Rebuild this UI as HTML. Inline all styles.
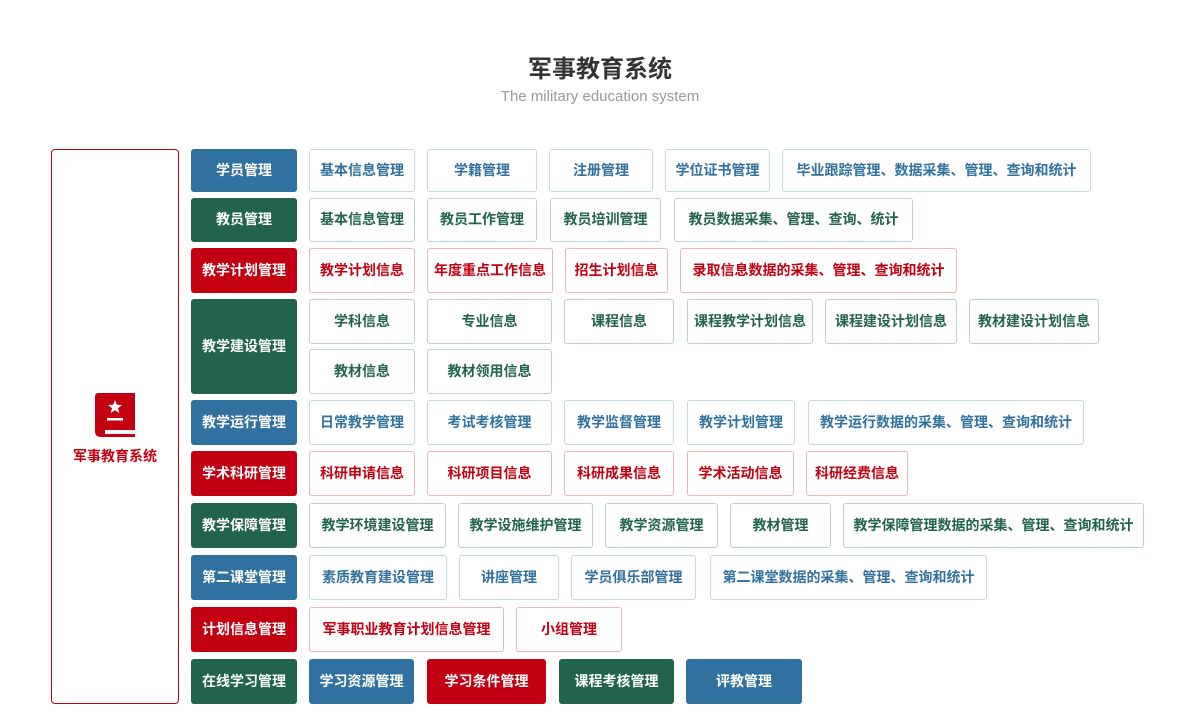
<!DOCTYPE html>
<html><head><meta charset="utf-8"><style>
body{margin:0;width:1200px;height:727px;background:#fff;position:relative;overflow:hidden;font-family:"Liberation Sans","Noto Sans CJK SC",sans-serif}
.t{position:absolute;left:0;width:1200px;text-align:center}
.b{position:absolute;box-sizing:border-box;border-radius:3px;display:flex;align-items:center;justify-content:center;font-size:14px;font-weight:bold;white-space:nowrap;padding-bottom:2px}
.fb{background:#31719f;color:#fff}.fg{background:#22634d;color:#fff}.fr{background:#c30012;color:#fff}
.ob{border:1px solid #c5d8e5;color:#31719f}.og{border:1px solid #bcd1ca;color:#22634d}.or{border:1px solid #efb3b8;color:#c30012}
</style></head><body>
<div class="t" style="top:49px;font-size:24px;font-weight:bold;color:#333">军事教育系统</div>
<div class="t" style="top:88px;font-size:15px;color:#999">The military education system</div>
<div style="position:absolute;left:51px;top:149px;width:128px;height:555px;box-sizing:border-box;border:1px solid #c30012;border-radius:4px"></div>
<svg style="position:absolute;left:95px;top:393px" width="40" height="45" viewBox="0 0 40 45">
<path d="M3 0H40V37H10V41H40V44H6Q0 44 0 38V4Q0 0 3 0Z" fill="#c30012"/>
<polygon points="20,7 21.9,11.8 27,12 23,15.2 24.3,20 20,17.3 15.7,20 17,15.2 13,12 18.1,11.8" fill="#fff"/>
<rect x="12" y="25" width="16" height="2.5" fill="#fff"/>
</svg>
<div style="position:absolute;left:51px;width:128px;top:446px;text-align:center;font-size:14px;font-weight:bold;color:#c30012">军事教育系统</div>

<div class="b fb" style="left:191px;top:149px;width:106px;height:43px">学员管理</div>
<div class="b ob" style="left:309px;top:149px;width:106px;height:43px">基本信息管理</div>
<div class="b ob" style="left:427px;top:149px;width:110px;height:43px">学籍管理</div>
<div class="b ob" style="left:549px;top:149px;width:104px;height:43px">注册管理</div>
<div class="b ob" style="left:665px;top:149px;width:105px;height:43px">学位证书管理</div>
<div class="b ob" style="left:782px;top:149px;width:309px;height:43px">毕业跟踪管理、数据采集、管理、查询和统计</div>

<div class="b fg" style="left:191px;top:198px;width:106px;height:44px">教员管理</div>
<div class="b og" style="left:309px;top:198px;width:106px;height:44px">基本信息管理</div>
<div class="b og" style="left:427px;top:198px;width:110px;height:44px">教员工作管理</div>
<div class="b og" style="left:550px;top:198px;width:111px;height:44px">教员培训管理</div>
<div class="b og" style="left:674px;top:198px;width:239px;height:44px">教员数据采集、管理、查询、统计</div>

<div class="b fr" style="left:191px;top:248px;width:106px;height:45px">教学计划管理</div>
<div class="b or" style="left:309px;top:248px;width:106px;height:45px">教学计划信息</div>
<div class="b or" style="left:427px;top:248px;width:126px;height:45px">年度重点工作信息</div>
<div class="b or" style="left:565px;top:248px;width:103px;height:45px">招生计划信息</div>
<div class="b or" style="left:680px;top:248px;width:277px;height:45px">录取信息数据的采集、管理、查询和统计</div>

<div class="b fg" style="left:191px;top:299px;width:106px;height:95px">教学建设管理</div>
<div class="b og" style="left:309px;top:299px;width:106px;height:45px">学科信息</div>
<div class="b og" style="left:427px;top:299px;width:125px;height:45px">专业信息</div>
<div class="b og" style="left:564px;top:299px;width:110px;height:45px">课程信息</div>
<div class="b og" style="left:687px;top:299px;width:126px;height:45px">课程教学计划信息</div>
<div class="b og" style="left:825px;top:299px;width:132px;height:45px">课程建设计划信息</div>
<div class="b og" style="left:969px;top:299px;width:130px;height:45px">教材建设计划信息</div>
<div class="b og" style="left:309px;top:349px;width:106px;height:45px">教材信息</div>
<div class="b og" style="left:427px;top:349px;width:125px;height:45px">教材领用信息</div>

<div class="b fb" style="left:191px;top:400px;width:106px;height:45px">教学运行管理</div>
<div class="b ob" style="left:309px;top:400px;width:106px;height:45px">日常教学管理</div>
<div class="b ob" style="left:427px;top:400px;width:125px;height:45px">考试考核管理</div>
<div class="b ob" style="left:564px;top:400px;width:110px;height:45px">教学监督管理</div>
<div class="b ob" style="left:687px;top:400px;width:108px;height:45px">教学计划管理</div>
<div class="b ob" style="left:808px;top:400px;width:276px;height:45px">教学运行数据的采集、管理、查询和统计</div>

<div class="b fr" style="left:191px;top:451px;width:106px;height:45px">学术科研管理</div>
<div class="b or" style="left:309px;top:451px;width:106px;height:45px">科研申请信息</div>
<div class="b or" style="left:427px;top:451px;width:125px;height:45px">科研项目信息</div>
<div class="b or" style="left:564px;top:451px;width:110px;height:45px">科研成果信息</div>
<div class="b or" style="left:687px;top:451px;width:107px;height:45px">学术活动信息</div>
<div class="b or" style="left:806px;top:451px;width:102px;height:45px">科研经费信息</div>

<div class="b fg" style="left:191px;top:503px;width:106px;height:45px">教学保障管理</div>
<div class="b og" style="left:309px;top:503px;width:137px;height:45px">教学环境建设管理</div>
<div class="b og" style="left:458px;top:503px;width:135px;height:45px">教学设施维护管理</div>
<div class="b og" style="left:605px;top:503px;width:113px;height:45px">教学资源管理</div>
<div class="b og" style="left:730px;top:503px;width:101px;height:45px">教材管理</div>
<div class="b og" style="left:843px;top:503px;width:301px;height:45px">教学保障管理数据的采集、管理、查询和统计</div>

<div class="b fb" style="left:191px;top:555px;width:106px;height:45px">第二课堂管理</div>
<div class="b ob" style="left:309px;top:555px;width:138px;height:45px">素质教育建设管理</div>
<div class="b ob" style="left:459px;top:555px;width:100px;height:45px">讲座管理</div>
<div class="b ob" style="left:571px;top:555px;width:125px;height:45px">学员俱乐部管理</div>
<div class="b ob" style="left:710px;top:555px;width:277px;height:45px">第二课堂数据的采集、管理、查询和统计</div>

<div class="b fr" style="left:191px;top:607px;width:106px;height:45px">计划信息管理</div>
<div class="b or" style="left:309px;top:607px;width:195px;height:45px">军事职业教育计划信息管理</div>
<div class="b or" style="left:516px;top:607px;width:106px;height:45px">小组管理</div>

<div class="b fg" style="left:191px;top:659px;width:106px;height:45px">在线学习管理</div>
<div class="b fb" style="left:309px;top:659px;width:105px;height:45px">学习资源管理</div>
<div class="b fr" style="left:427px;top:659px;width:119px;height:45px">学习条件管理</div>
<div class="b fg" style="left:559px;top:659px;width:115px;height:45px">课程考核管理</div>
<div class="b fb" style="left:686px;top:659px;width:116px;height:45px">评教管理</div>
</body></html>
